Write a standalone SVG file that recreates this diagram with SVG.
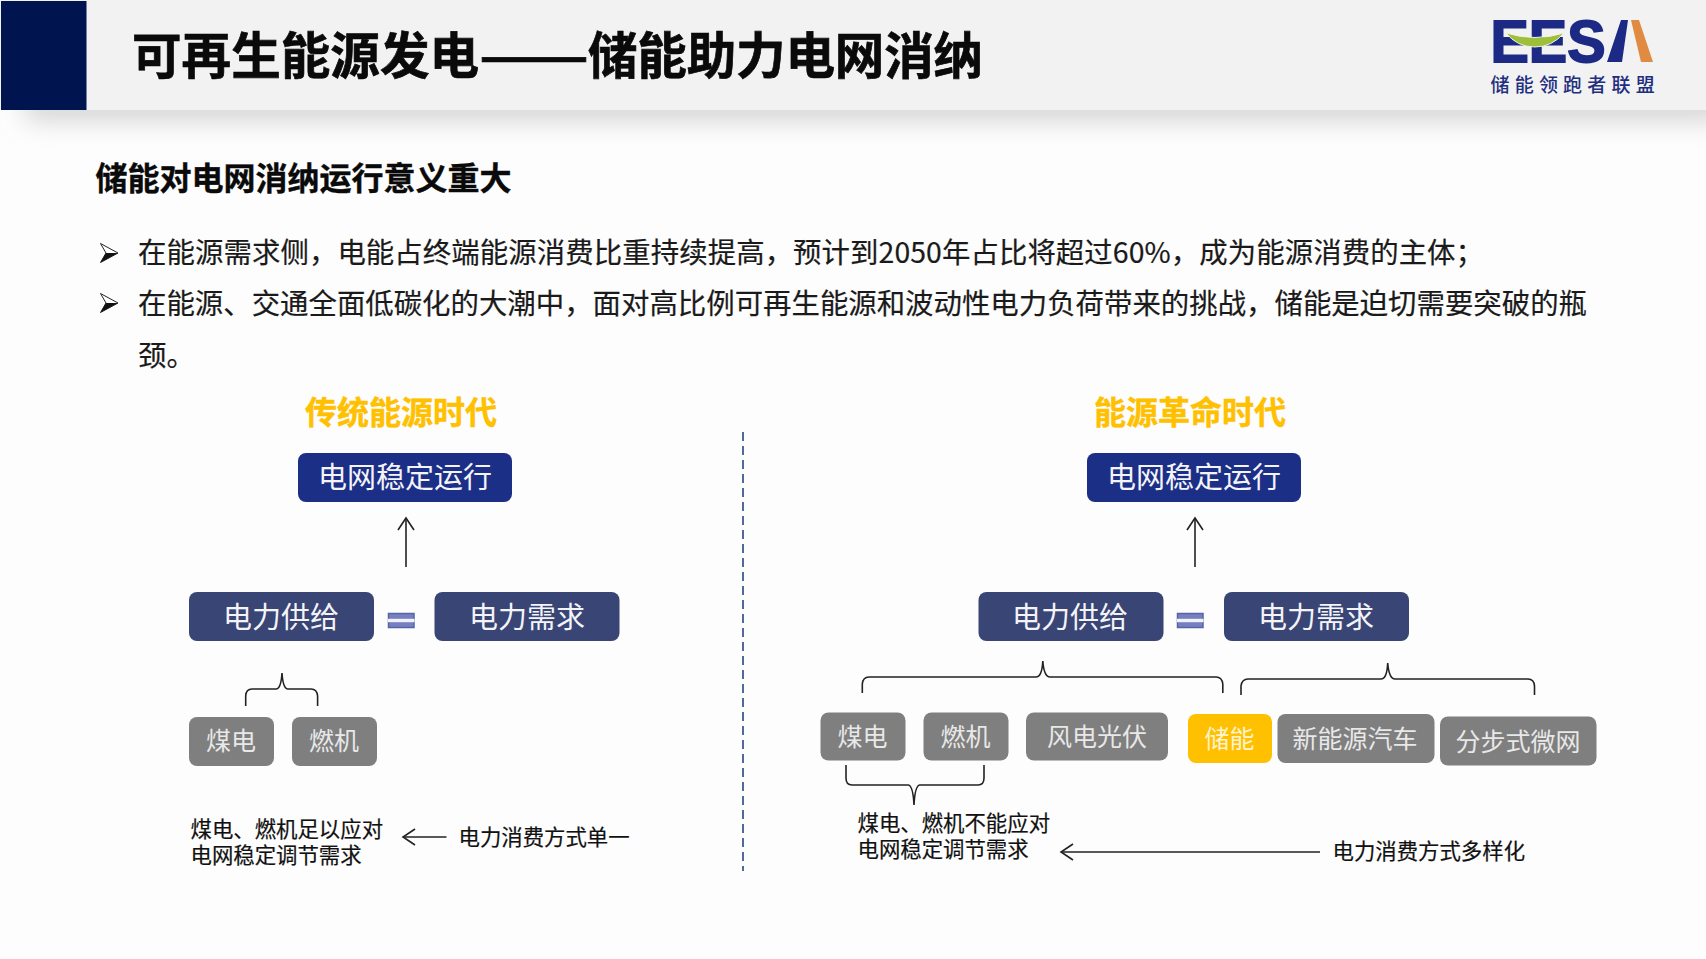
<svg xmlns="http://www.w3.org/2000/svg" width="1706" height="959" viewBox="0 0 1706 959">
<style>
text{font-family:"Noto Sans CJK SC","Noto Sans",sans-serif}
.m{text-anchor:middle}
.w{fill:#f4f4f8;font-size:29px}
.g{fill:#e8e8e8;font-size:25px}
.t{fill:#111;font-size:21.4px;stroke:#111;stroke-width:.2}
.b{fill:#1a1a1a;font-size:28.4px;stroke:#1a1a1a;stroke-width:.2}
.era{fill:#ffc000;font-size:32px;font-weight:700;stroke:#ffc000;stroke-width:.4}
.navy{fill:#1c2f86}
.slate{fill:#384575}
.grey{fill:#7f7f7f}
.ln{fill:none;stroke:#222;stroke-width:1.6}
.eq{fill:#7680c0;stroke:#5566a4;stroke-width:1.500}
.eqg{fill:#f2f3fa}
</style>
<defs>
<marker id="arr" markerUnits="userSpaceOnUse" markerWidth="16" markerHeight="20" refX="13" refY="9" orient="auto">
<path d="M1 1L13 9L1 17" fill="none" stroke="#222" stroke-width="1.6"/>
</marker>
<filter id="sh" x="-5%" y="-100%" width="110%" height="300%"><feGaussianBlur stdDeviation="13"/></filter>
<g id="tick"><path d="M0.500 0.500L18 10L0.500 19.500L6 10Z" fill="#fff" stroke="#222" stroke-width="1"/><path d="M6 10H18L0.500 19.500Z" fill="#111"/></g>
</defs>
<rect width="1706" height="959" fill="#fdfdfd"/>
<rect x="25" y="92" width="1700" height="28" fill="#d2d2d2" filter="url(#sh)"/>
<g id="header">
<rect width="1706" height="110" fill="#f2f2f2"/>
<rect x="1" y="1" width="85.500" height="109" fill="#001550"/>
<g font-size="49.500" font-weight="700" fill="#0a0a0a" stroke="#0a0a0a" stroke-width=".7">
<text x="132" y="74" textLength="347" lengthAdjust="spacing">可再生能源发电</text>
<text x="479" y="74" textLength="110" lengthAdjust="spacingAndGlyphs">——</text>
<text x="588" y="74" textLength="395" lengthAdjust="spacing">储能助力电网消纳</text>
</g>
</g>
<g id="logo">
<text x="1490.500" y="62" font-size="60" font-weight="700" fill="#1c2a86" stroke="#1c2a86" stroke-width="1.800" textLength="115" lengthAdjust="spacingAndGlyphs" style="font-family:'Liberation Sans',sans-serif">EES</text>
<path d="M1607 62L1621 20H1628L1622 62Z" fill="#1c2a86"/>
<path d="M1631 20H1639L1653 62H1641Z" fill="#e08a42"/>
<path d="M1506 33Q1535 42 1564 33Q1552 47 1535 47Q1517 47 1506 33Z" fill="#9dbf3a" stroke="#f2f2e4" stroke-width="1"/>
<text x="1490.500" y="92" font-size="19" font-weight="500" fill="#1f2f80" letter-spacing="5.200">储能领跑者联盟</text>
</g>
<g id="intro">
<text x="95.500" y="190" font-size="32" font-weight="700" fill="#0a0a0a" stroke="#0a0a0a" stroke-width=".4" textLength="416" lengthAdjust="spacing">储能对电网消纳运行意义重大</text>
<use href="#tick" x="100" y="243"/>
<text class="b" x="138" y="262.500" textLength="1346" lengthAdjust="spacing">在能源需求侧，电能占终端能源消费比重持续提高，预计到2050年占比将超过60%，成为能源消费的主体；</text>
<use href="#tick" x="100" y="293"/>
<text class="b" x="138" y="313.500" textLength="1449" lengthAdjust="spacing">在能源、交通全面低碳化的大潮中，面对高比例可再生能源和波动性电力负荷带来的挑战，储能是迫切需要突破的瓶</text>
<text class="b" x="138" y="366">颈。</text>
</g>
<text class="era m" x="401" y="424">传统能源时代</text>
<text class="era m" x="1190" y="424">能源革命时代</text>
<g id="connectors">
<path d="M743 432V871" fill="none" stroke="#3f5a92" stroke-width="1.800" stroke-dasharray="9 5"/>
<path class="ln" d="M406 567V518" marker-end="url(#arr)"/>
<path class="ln" d="M1195 567V518" marker-end="url(#arr)"/>
<path class="ln" d="M446.500 837H403" marker-end="url(#arr)"/>
<path class="ln" d="M1320 852H1061" marker-end="url(#arr)"/>
<path class="ln" d="M245.700 706V696Q246 689 252 689H276Q281 689 282 673Q283 689 288 689H311Q317 689 317.600 696V706"/>
<path class="ln" d="M862.300 693V684Q863 677 869 677H1036Q1042 677 1042.800 661Q1044 677 1050 677H1216Q1222 677 1222.800 684V693"/>
<path class="ln" d="M1241 695V686Q1242 679 1248 679H1381Q1387 679 1387.700 663Q1389 679 1395 679H1528Q1534 679 1534.500 686V695"/>
<path class="ln" d="M846 765V778Q846 785 852 785H908Q913 785 914 805Q915 785 920 785H978Q984 785 984 778V765"/>
</g>
<g id="eq-left"><rect class="eq" x="388.500" y="613.500" width="25.500" height="14"/><rect class="eqg" x="388" y="618.800" width="26.500" height="3.400"/></g>
<g id="eq-right"><rect class="eq" x="1177.500" y="613.500" width="25.500" height="14"/><rect class="eqg" x="1177" y="618.800" width="26.500" height="3.400"/></g>
<g id="grid-left"><rect class="navy" x="298" y="453" width="214" height="49" rx="8"/><text class="w m" x="405" y="487.500">电网稳定运行</text></g>
<g id="supply-left"><rect class="slate" x="189" y="592" width="185" height="49" rx="8"/><text class="w m" x="281" y="628">电力供给</text></g>
<g id="demand-left"><rect class="slate" x="434.500" y="592" width="185" height="49" rx="8"/><text class="w m" x="527" y="628">电力需求</text></g>
<g id="coal-left"><rect class="grey" x="189" y="717" width="85" height="49" rx="8"/><text class="g m" x="231" y="749.500">煤电</text></g>
<g id="gas-left"><rect class="grey" x="292" y="717" width="85" height="49" rx="8"/><text class="g m" x="334" y="749.500">燃机</text></g>
<g id="note-left">
<text class="t" x="190.500" y="836.500">煤电、燃机足以应对</text>
<text class="t" x="190.500" y="863">电网稳定调节需求</text>
<text class="t" x="458.500" y="844.500">电力消费方式单一</text>
</g>
<g id="grid-right"><rect class="navy" x="1087" y="453" width="214" height="49" rx="8"/><text class="w m" x="1194" y="487.500">电网稳定运行</text></g>
<g id="supply-right"><rect class="slate" x="978.500" y="592" width="185" height="49" rx="8"/><text class="w m" x="1070" y="628">电力供给</text></g>
<g id="demand-right"><rect class="slate" x="1224" y="592" width="185" height="49" rx="8"/><text class="w m" x="1316" y="628">电力需求</text></g>
<g id="coal-right"><rect class="grey" x="820.500" y="712.500" width="85" height="48" rx="8"/><text class="g m" x="862.500" y="746">煤电</text></g>
<g id="gas-right"><rect class="grey" x="923.500" y="712.500" width="85" height="48" rx="8"/><text class="g m" x="965.500" y="746">燃机</text></g>
<g id="wind"><rect class="grey" x="1026" y="712.500" width="142" height="48" rx="8"/><text class="g m" x="1097" y="746">风电光伏</text></g>
<g id="storage"><rect fill="#ffc000" x="1188" y="714" width="84" height="49" rx="8"/><text class="g m" x="1229.500" y="747.500" style="fill:#fff3d0">储能</text></g>
<g id="ev"><rect class="grey" x="1277.500" y="714" width="157" height="49" rx="8"/><text class="g m" x="1355" y="747.500">新能源汽车</text></g>
<g id="micro"><rect class="grey" x="1440" y="716.500" width="156.500" height="49" rx="8"/><text class="g m" x="1518" y="750.500">分步式微网</text></g>
<g id="note-right">
<text class="t" x="857.500" y="831">煤电、燃机不能应对</text>
<text class="t" x="857.500" y="856.500">电网稳定调节需求</text>
<text class="t" x="1332.500" y="859">电力消费方式多样化</text>
</g>
</svg>
